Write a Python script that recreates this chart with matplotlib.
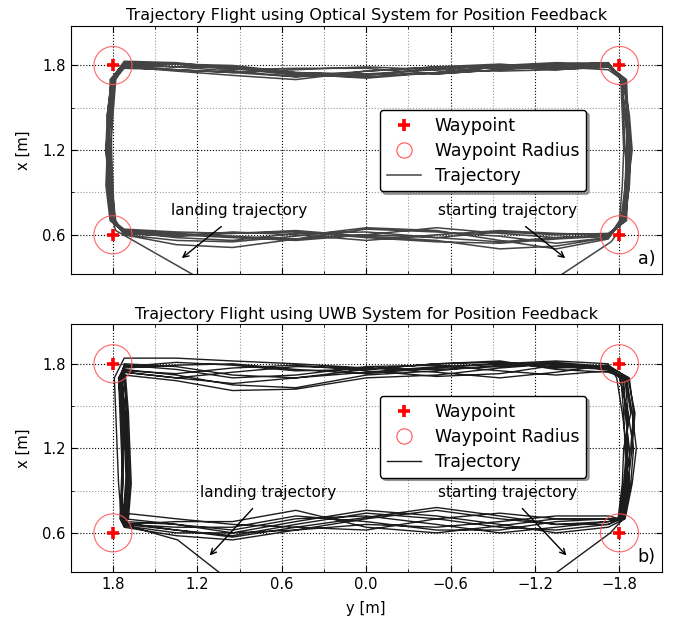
import matplotlib
matplotlib.use("Agg")
import matplotlib.pyplot as plt
from matplotlib.lines import Line2D
from matplotlib.patches import Circle
from matplotlib.ticker import MultipleLocator

# waypoints (y, x) in metres
WP_Y = [1.8, -1.8, -1.8, 1.8]
WP_X = [1.8, 1.8, 0.6, 0.6]
WP_RADIUS = 0.135

# stations along the rectangle
TOP_STATIONS = [-1.72, -1.35, -0.95, -0.5, 0.0, 0.5, 0.95, 1.35, 1.72]    # y, going left
BOT_STATIONS = [1.72, 1.35, 0.95, 0.5, 0.0, -0.5, -0.95, -1.35, -1.72]    # y, going right
SIDE_STATIONS = [0.70, 0.95, 1.20, 1.45, 1.70]                             # x, going up

# ---- a) optical system ----
RIGHT_A = [
    [-1.81, -1.84, -1.86, -1.84, -1.81],
    [-1.83, -1.87, -1.88, -1.86, -1.83],
    [-1.80, -1.82, -1.83, -1.82, -1.81],
    [-1.84, -1.87, -1.87, -1.85, -1.84],
    [-1.82, -1.85, -1.87, -1.84, -1.82],
    [-1.83, -1.84, -1.85, -1.86, -1.83],
    [-1.81, -1.86, -1.89, -1.87, -1.83],
    [-1.85, -1.86, -1.84, -1.83, -1.82],
    [-1.83, -1.85, -1.86, -1.86, -1.85],
]
TOP_A = [
    [1.80, 1.81, 1.80, 1.77, 1.74, 1.75, 1.79, 1.81, 1.82],
    [1.79, 1.77, 1.79, 1.75, 1.71, 1.74, 1.79, 1.79, 1.80],
    [1.82, 1.81, 1.77, 1.74, 1.74, 1.72, 1.75, 1.77, 1.80],
    [1.80, 1.78, 1.81, 1.79, 1.76, 1.70, 1.73, 1.76, 1.79],
    [1.77, 1.79, 1.77, 1.74, 1.78, 1.78, 1.77, 1.81, 1.82],
    [1.81, 1.82, 1.80, 1.78, 1.73, 1.75, 1.80, 1.81, 1.80],
    [1.79, 1.77, 1.76, 1.77, 1.79, 1.77, 1.75, 1.77, 1.78],
    [1.82, 1.80, 1.79, 1.75, 1.72, 1.73, 1.78, 1.82, 1.83],
    [1.80, 1.79, 1.78, 1.79, 1.76, 1.72, 1.76, 1.79, 1.81],
]
LEFT_A = [
    [1.80, 1.82, 1.84, 1.82, 1.79],
    [1.81, 1.84, 1.85, 1.83, 1.81],
    [1.78, 1.80, 1.82, 1.81, 1.78],
    [1.80, 1.83, 1.85, 1.82, 1.80],
    [1.82, 1.82, 1.83, 1.84, 1.81],
    [1.79, 1.81, 1.81, 1.80, 1.79],
    [1.79, 1.82, 1.84, 1.85, 1.82],
    [1.81, 1.84, 1.83, 1.82, 1.80],
    [1.80, 1.82, 1.83, 1.82, 1.80],
]
BOT_A = [
    [0.62, 0.58, 0.56, 0.61, 0.62, 0.58, 0.55, 0.58, 0.60],
    [0.63, 0.61, 0.59, 0.57, 0.64, 0.62, 0.59, 0.54, 0.58],
    [0.60, 0.53, 0.51, 0.57, 0.60, 0.65, 0.61, 0.58, 0.59],
    [0.64, 0.62, 0.61, 0.63, 0.59, 0.56, 0.50, 0.52, 0.58],
    [0.61, 0.59, 0.62, 0.60, 0.56, 0.60, 0.63, 0.61, 0.60],
    [0.60, 0.56, 0.55, 0.59, 0.65, 0.63, 0.56, 0.50, 0.57],
    [0.62, 0.60, 0.58, 0.56, 0.60, 0.58, 0.62, 0.60, 0.61],
    [0.61, 0.59, 0.61, 0.62, 0.58, 0.55, 0.54, 0.57, 0.59],
]
START_A = [(-1.30, 0.26), (-1.74, 0.55), (-1.80, 0.63)]
LAND_A = [(1.78, 0.63), (1.20, 0.30)]

# ---- b) UWB system ----
RIGHT_B = [
    [-1.83, -1.86, -1.85, -1.86, -1.84],
    [-1.80, -1.84, -1.86, -1.85, -1.82],
    [-1.83, -1.88, -1.90, -1.86, -1.80],
    [-1.79, -1.82, -1.83, -1.88, -1.84],
    [-1.82, -1.86, -1.89, -1.91, -1.86],
    [-1.81, -1.85, -1.84, -1.83, -1.81],
    [-1.84, -1.89, -1.92, -1.89, -1.85],
    [-1.80, -1.83, -1.85, -1.82, -1.78],
    [-1.82, -1.87, -1.87, -1.84, -1.83],
    [-1.81, -1.84, -1.88, -1.90, -1.87],
]
TOP_B = [
    [1.77, 1.80, 1.78, 1.76, 1.77, 1.80, 1.82, 1.84, 1.84],
    [1.76, 1.78, 1.80, 1.78, 1.74, 1.70, 1.72, 1.78, 1.80],
    [1.78, 1.81, 1.79, 1.75, 1.72, 1.63, 1.65, 1.72, 1.76],
    [1.74, 1.76, 1.82, 1.80, 1.76, 1.75, 1.79, 1.81, 1.78],
    [1.79, 1.74, 1.70, 1.74, 1.77, 1.78, 1.74, 1.70, 1.74],
    [1.77, 1.80, 1.77, 1.72, 1.70, 1.62, 1.61, 1.68, 1.72],
    [1.75, 1.72, 1.75, 1.79, 1.78, 1.72, 1.70, 1.76, 1.79],
    [1.80, 1.82, 1.80, 1.77, 1.73, 1.76, 1.80, 1.79, 1.77],
    [1.76, 1.79, 1.73, 1.71, 1.75, 1.79, 1.77, 1.73, 1.75],
    [1.78, 1.77, 1.81, 1.80, 1.76, 1.70, 1.66, 1.70, 1.74],
]
LEFT_B = [
    [1.79, 1.78, 1.77, 1.76, 1.74],
    [1.74, 1.72, 1.71, 1.70, 1.72],
    [1.72, 1.70, 1.69, 1.68, 1.70],
    [1.76, 1.74, 1.73, 1.74, 1.75],
    [1.71, 1.69, 1.68, 1.67, 1.69],
    [1.74, 1.71, 1.70, 1.71, 1.73],
    [1.75, 1.73, 1.72, 1.73, 1.74],
    [1.72, 1.70, 1.70, 1.69, 1.71],
    [1.73, 1.72, 1.71, 1.70, 1.73],
    [1.76, 1.75, 1.74, 1.73, 1.74],
]
BOT_B = [
    [0.66, 0.62, 0.58, 0.66, 0.74, 0.70, 0.64, 0.62, 0.66],
    [0.68, 0.66, 0.62, 0.70, 0.72, 0.66, 0.60, 0.64, 0.68],
    [0.74, 0.70, 0.66, 0.64, 0.62, 0.70, 0.74, 0.70, 0.70],
    [0.64, 0.58, 0.55, 0.62, 0.70, 0.76, 0.70, 0.66, 0.68],
    [0.66, 0.64, 0.64, 0.72, 0.68, 0.62, 0.62, 0.68, 0.70],
    [0.65, 0.60, 0.60, 0.68, 0.76, 0.72, 0.66, 0.60, 0.64],
    [0.70, 0.66, 0.60, 0.62, 0.66, 0.64, 0.68, 0.72, 0.72],
    [0.67, 0.62, 0.57, 0.64, 0.71, 0.78, 0.72, 0.66, 0.66],
    [0.66, 0.68, 0.68, 0.76, 0.64, 0.60, 0.65, 0.70, 0.70],
]
START_B = [(-1.30, 0.28), (-1.735, 0.60), (-1.79, 0.66)]
LAND_B = [(1.66, 0.64), (1.34, 0.55), (1.02, 0.30)]

PANELS = [
    ("Trajectory Flight using Optical System for Position Feedback", "a)",
     RIGHT_A, TOP_A, LEFT_A, BOT_A, START_A, LAND_A, "#444444", 1.1),
    ("Trajectory Flight using UWB System for Position Feedback", "b)",
     RIGHT_B, TOP_B, LEFT_B, BOT_B, START_B, LAND_B, "#1c1c1c", 1.0),
]
# annotation text centre, arrow tail and arrow head (y, x) per panel
ANNOT = [
    {"land": ((0.904, 0.77), (1.014, 0.671), (1.326, 0.422)),
     "start": ((-1.004, 0.77), (-1.117, 0.671), (-1.43, 0.422))},
    {"land": ((0.70, 0.886), (0.794, 0.787), (1.126, 0.425)),
     "start": ((-1.007, 0.886), (-1.096, 0.787), (-1.437, 0.425))},
]


def build_path(right, top, left, bot, start, land):
    ys, xs = [p[0] for p in start], [p[1] for p in start]
    side_down = SIDE_STATIONS[::-1]
    for i in range(len(right)):
        ys += right[i]; xs += SIDE_STATIONS
        ys += TOP_STATIONS; xs += top[i]
        ys += left[i]; xs += side_down
        if i < len(bot):
            ys += BOT_STATIONS; xs += bot[i]
    ys += [p[0] for p in land]; xs += [p[1] for p in land]
    return ys, xs


fig = plt.figure(figsize=(6.84, 6.2), dpi=100)
ax_top = fig.add_axes([0.1034, 0.5576, 0.864, 0.4005])
ax_bot = fig.add_axes([0.1034, 0.0769, 0.864, 0.4000])

for k, (ax, panel) in enumerate(zip([ax_top, ax_bot], PANELS)):
    title, tag, right, top, left, bot, start, land, lc, lw = panel
    ys, xs = build_path(right, top, left, bot, start, land)
    ax.plot(ys, xs, color=lc, lw=lw, solid_joinstyle="round", zorder=2)
    for wy, wx in zip(WP_Y, WP_X):
        ax.add_patch(Circle((wy, wx), WP_RADIUS, fill=False, ec="#ff5555",
                            lw=0.8, alpha=0.9, zorder=3))
    ax.plot(WP_Y, WP_X, ls="none", marker="+", color="red", ms=8, mew=2.6, zorder=4)

    ax.set_xlim(2.1, -2.1)
    ax.set_ylim(0.32, 2.08)
    ax.xaxis.set_major_locator(MultipleLocator(0.6))
    ax.xaxis.set_minor_locator(MultipleLocator(0.3))
    ax.yaxis.set_major_locator(MultipleLocator(0.6))
    ax.yaxis.set_minor_locator(MultipleLocator(0.3))
    ax.tick_params(which="both", direction="in", top=True, right=True, labelsize=10.6)
    ax.tick_params(which="major", length=4)
    ax.tick_params(which="minor", length=2)
    ax.grid(which="major", color="k", ls=":", lw=0.8)
    ax.grid(which="minor", color="0.6", ls=":", lw=0.8)
    ax.set_axisbelow(True)
    ax.set_ylabel("x [m]", fontsize=10.6, labelpad=8)
    ax.set_title(title, fontsize=11.5, pad=4)
    ax.text(0.99, 0.025, tag, transform=ax.transAxes, ha="right", va="bottom",
            fontsize=12.7)

    for key, label in (("land", "landing trajectory"), ("start", "starting trajectory")):
        txt, tail, head = ANNOT[k][key]
        ax.text(txt[0], txt[1], label, ha="center", va="center", fontsize=11)
        ax.annotate("", xy=head, xytext=tail,
                    arrowprops=dict(arrowstyle="->", color="k", lw=1.0))

    handles = [
        Line2D([], [], ls="none", marker="+", color="red", ms=8, mew=2.6),
        Line2D([], [], ls="none", marker="o", mfc="none", mec="#ff5555", ms=11, mew=0.8),
        Line2D([], [], color=lc, lw=lw),
    ]
    anchor = (0.523, 0.662) if k == 0 else (0.523, 0.711)
    leg = ax.legend(handles, ["Waypoint", "Waypoint Radius", "Trajectory"],
                    loc="upper left", bbox_to_anchor=anchor, borderaxespad=0,
                    fontsize=12.4, numpoints=1, shadow=True, fancybox=True,
                    framealpha=1, labelspacing=0.4, handletextpad=0.8,
                    handlelength=2.0)
    leg.get_frame().set_edgecolor("k")
    leg.get_frame().set_linewidth(1.0)
    leg.set_zorder(5)

ax_top.tick_params(labelbottom=False)
ax_bot.set_xlabel("y [m]", fontsize=10.6, labelpad=6)

fig.savefig("out.png", dpi=100)
